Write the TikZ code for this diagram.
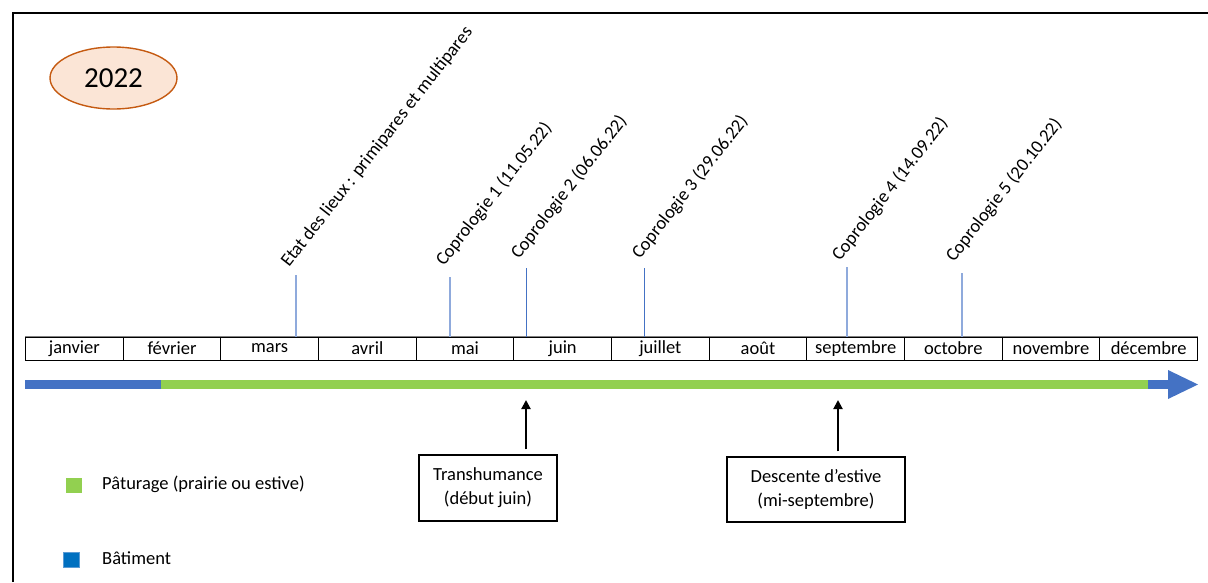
\documentclass[tikz,border=0pt]{standalone}
\usepackage{fontspec}
\setmainfont{Carlito}
\usetikzlibrary{arrows.meta,shapes.geometric}
\definecolor{barblue}{HTML}{4472C4}
\definecolor{bargreen}{HTML}{92D050}
\definecolor{legblue}{HTML}{0070C0}
\definecolor{legblueb}{HTML}{5B9BD5}
\definecolor{tickl}{HTML}{8FAADC}
\definecolor{ellfill}{HTML}{FBE5D6}
\definecolor{elldraw}{HTML}{C55A11}
\tikzset{
  txt/.style={font=\fontsize{18.5}{22}\selectfont},
  month/.style={txt, draw=black, line width=1pt, rectangle, inner sep=0pt,
    minimum width=97.67pt, minimum height=23pt, anchor=west},
  ticklight/.style={draw=tickl, line width=1.3pt},
  tickdark/.style={draw=barblue, line width=1pt},
  evlabel/.style={txt, rotate=52, anchor=base west, inner sep=0pt},
  eventbox/.style={txt, draw=black, line width=1.3pt, rectangle, inner sep=0pt, align=center},
  uparrow/.style={draw=black, line width=2pt, -{Triangle[length=9pt,width=9pt]}},
  legtxt/.style={txt, anchor=west, inner sep=0pt},
}
\begin{document}
\begin{tikzpicture}[x=1pt,y=-1pt]
\useasboundingbox (0,0) rectangle (1208,582);
% frame
\draw[line width=2.6pt] (13,582) -- (13,13) -- (1208,13);
% year ellipse
\node[ellipse, draw=elldraw, fill=ellfill, line width=1.4pt, minimum width=127pt, minimum height=62pt, inner sep=0pt,
  font=\fontsize{29}{34}\selectfont] (year) at (113.5,78) {2022};
% months
\foreach \i/\m in {0/janvier,1/février,2/mars,3/avril,4/mai,5/juin,6/juillet,7/août,8/septembre,9/octobre,10/novembre,11/décembre}{
  \node[month] (m\i) at ({25+\i*97.667},348.5) {\m};
}
\draw[draw=gray, line width=1.6pt] (m0.north west) -- (m11.north east);
% bar
\fill[barblue] (25,380) rectangle (161,389);
\fill[bargreen] (161,380) rectangle (1148,389);
\fill[barblue] (1148,380) rectangle (1169,389);
\fill[barblue] (1168,370) -- (1198,384.5) -- (1168,399) -- cycle;
% ticks
\coordinate (t1) at (296,275);
\coordinate (t2) at (450,277);
\coordinate (t3) at (526,268);
\coordinate (t4) at (644,268);
\coordinate (t5) at (847,267);
\coordinate (t6) at (962,273);
\draw[ticklight] (t1) -- (t1 |- m2.north);
\draw[ticklight] (t2) -- (t2 |- m4.north);
\draw[tickdark] (t3) -- (t3 |- m5.north);
\draw[tickdark] (t4) -- (t4 |- m6.north);
\draw[ticklight] (t5) -- (t5 |- m8.north);
\draw[ticklight] (t6) -- (t6 |- m9.north);
% labels
\node[evlabel] (l1) at (289,268) {Etat des lieux : primipares et multipares};
\node[evlabel] (l2) at (444,267) {Coprologie 1 (11.05.22)};
\node[evlabel] (l3) at (519,260) {Coprologie 2 (06.06.22)};
\node[evlabel] (l4) at (640,260) {Coprologie 3 (29.06.22)};
\node[evlabel] (l5) at (840,262) {Coprologie 4 (14.09.22)};
\node[evlabel] (l6) at (954,263) {Coprologie 5 (20.10.22)};
% event boxes
\node[eventbox, minimum width=138pt, minimum height=66pt] (trans) at (488,488) {Transhumance\\[2pt](début juin)};
\node[eventbox, minimum width=178pt, minimum height=65pt] (desc) at (816,489.5) {Descente d’estive\\[2pt](mi-septembre)};
\coordinate (a1) at (526,400);
\coordinate (a2) at (838,400);
\draw[uparrow] (a1 |- trans.north) ++(0,-5) -- (a1);
\draw[uparrow] (a2 |- desc.north) ++(0,-5) -- (a2);
% legend
\fill[bargreen] (66,478) rectangle (82,493);
\node[legtxt] (lg1) at (102,484) {Pâturage (prairie ou estive)};
\filldraw[fill=legblue, draw=legblueb, line width=0.8pt] (63,552) rectangle (79,567);
\node[legtxt] (lg2) at (102,558) {Bâtiment};
\end{tikzpicture}
\end{document}
